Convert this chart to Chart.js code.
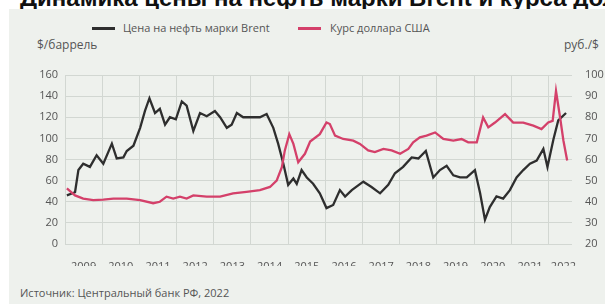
<!DOCTYPE html>
<html>
<head>
<meta charset="utf-8">
<script src="https://cdn.jsdelivr.net/npm/chart.js@4.4.1/dist/chart.umd.min.js"></script>
<style>
  body { margin:0; width:605px; height:304px; background:#fff; position:relative; overflow:hidden; font-family:"Open Sans", sans-serif; }
  .title { position:absolute; left:20px; top:-14px; font:bold 24px/24px "Liberation Sans", Arial, sans-serif; color:#111; white-space:nowrap; }
  .panel { position:absolute; left:9px; top:9px; right:0; bottom:0; background:#eef1ed; }
  .lbl { position:absolute; font-size:11px; color:#555; white-space:nowrap; line-height:13px; }
  .sw { position:absolute; height:3px; width:23px; }
  canvas { position:absolute; left:0; top:0; }
</style>
</head>
<body>
<div class="title">Динамика цены на нефть марки Brent и курса доллара США</div>
<div class="panel"></div>
<div class="sw" style="left:92px;top:27px;background:#2e2e2e"></div>
<div class="lbl" style="left:123px;top:21px">Цена на нефть марки Brent</div>
<div class="sw" style="left:298px;top:27px;background:#d4406a"></div>
<div class="lbl" style="left:330px;top:21px">Курс доллара США</div>
<div class="lbl" style="left:37px;top:38px;font-size:12px">$/баррель</div>
<div class="lbl" style="left:564px;top:38px;font-size:12px">руб./$</div>
<div class="lbl" style="left:20px;top:286px">Источник: Центральный банк РФ, 2022</div>
<canvas id="myChart" width="605" height="304"></canvas>
<script>
const years = ['2009','2010','2011','2012','2013','2014','2015','2016','2017','2018','2019','2020','2021','2022']
const yearLabelPos = [2009.5,2010.5,2011.5,2012.5,2013.5,2014.5,2015.5,2016.5,2017.5,2018.5,2019.5,2020.5,2021.5,2022.4]

// Brent, $/баррель (left axis)
const brentDates = [2009.05,2009.27,2009.36,2009.49,2009.67,2009.85,2010.03,2010.26,2010.39,2010.57,2010.66,2010.84,
  2011.02,2011.15,2011.27,2011.42,2011.55,2011.69,2011.82,2011.98,2012.14,2012.27,2012.45,2012.63,2012.81,
  2013.03,2013.17,2013.35,2013.48,2013.62,2013.79,2014.02,2014.24,2014.42,2014.60,2014.73,2014.87,
  2015.00,2015.14,2015.23,2015.36,2015.50,2015.67,2015.85,2016.03,2016.21,2016.39,2016.53,2016.71,
  2017.02,2017.24,2017.47,2017.69,2017.87,2018.09,2018.32,2018.50,2018.70,2018.90,2019.08,2019.26,
  2019.44,2019.62,2019.80,2020.02,2020.16,2020.29,2020.42,2020.60,2020.78,2020.96,2021.14,2021.32,
  2021.50,2021.68,2021.86,2021.97,2022.13,2022.26,2022.47]
const brent = [46,49,70,76,73,84,76,95,81,82,88,93,
  110,126,138,124,128,113,120,118,135,131,107,124,121,
  126,120,110,113,124,120,120,120,123,110,95,76,
  56,62,57,70,63,57,48,34,37,51,45,51,
  59,54,48,56,67,73,82,81,88,63,70,74,
  65,63,63,70,48,23,35,45,43,51,63,70,
  76,79,90,73,99,117,124]

// Курс доллара, руб./$ (right axis)
const usdDates = [2009.05,2009.27,2009.49,2009.76,2010.03,2010.30,2010.66,2011.02,2011.37,2011.55,2011.73,2011.91,
  2012.09,2012.27,2012.45,2012.81,2013.17,2013.52,2013.88,2014.24,2014.51,2014.69,2014.83,2014.91,
  2015.03,2015.14,2015.27,2015.45,2015.59,2015.85,2016.03,2016.12,2016.26,2016.48,2016.75,2016.93,
  2017.15,2017.33,2017.56,2017.78,2018.01,2018.23,2018.36,2018.54,2018.72,2018.95,2019.17,2019.44,
  2019.66,2019.84,2020.07,2020.24,2020.38,2020.56,2020.83,2021.05,2021.32,2021.59,2021.81,2021.99,
  2022.11,2022.20,2022.31,2022.40,2022.50]
const usd = [46.3,43,41.5,40.8,41,41.5,41.5,40.8,39.3,40,42.4,41.5,
  42.4,41.5,43,42.4,42.4,44,44.7,45.5,47,50,56.4,64.3,
  72,67.4,58.7,62.7,68.5,72,77.5,76.8,71.3,69.7,68.9,67.4,
  64.3,63.5,65,64.3,62.7,65,68.1,70.5,71.3,72.8,69.7,68.9,
  69.7,68.1,68.1,79.9,75.2,77.5,81.5,77.5,77.5,76,74.4,77.5,
  78.3,92.4,79.9,68.9,59.5]

const gridColor = '#d2d7d2'
const tickColor = '#555'
const tickFont = { family: 'Open Sans', size: 11 }
const ctx = document.getElementById('myChart')

new Chart(ctx, {
  type: 'line',
  data: {
    datasets: [
      {
        label: 'Курс доллара США',
        data: usdDates.map((d, i) => ({x: d, y: usd[i]})),
        borderColor: '#d4406a',
        borderWidth: 2.3,
        pointRadius: 0,
        yAxisID: 'y1',
        order: 0
      },
      {
        label: 'Цена на нефть марки Brent',
        data: brentDates.map((d, i) => ({x: d, y: brent[i]})),
        borderColor: '#2e2e2e',
        borderWidth: 2.3,
        pointRadius: 0,
        yAxisID: 'y',
        order: 1
      }
    ]
  },
  options: {
    responsive: false,
    animation: false,
    layout: { padding: { top: 75, bottom: 38, left: 0, right: 0 } },
    plugins: { legend: { display: false }, tooltip: { enabled: false } },
    scales: {
      x: {
        type: 'linear',
        min: 2009,
        max: 2022.63,
        afterBuildTicks: (axis) => {
          const t = years.map(y => ({value: +y}))
          yearLabelPos.forEach(p => t.push({value: p}))
          axis.ticks = t.sort((a, b) => a.value - b.value)
        },
        afterFit: (axis) => { axis.height = 22 },
        border: { display: false },
        grid: {
          drawTicks: false,
          color: (c) => (c.tick && Number.isInteger(c.tick.value)) ? gridColor : 'rgba(0,0,0,0)'
        },
        ticks: {
          autoSkip: false,
          maxRotation: 0,
          padding: 16,
          color: tickColor,
          font: tickFont,
          callback: (v) => {
            const i = yearLabelPos.indexOf(v)
            return i >= 0 ? years[i] : ''
          }
        }
      },
      y: {
        position: 'left',
        min: 0,
        max: 160,
        afterFit: (axis) => { axis.width = 65 },
        border: { display: false },
        grid: { color: gridColor, drawTicks: false },
        ticks: { stepSize: 20, padding: 7, color: tickColor, font: tickFont }
      },
      y1: {
        position: 'right',
        min: 20,
        max: 100,
        afterFit: (axis) => { axis.width = 33 },
        border: { display: false },
        grid: { display: false, drawTicks: false },
        ticks: { stepSize: 10, padding: 13, color: tickColor, font: tickFont }
      }
    }
  }
})
</script>
</body>
</html>
